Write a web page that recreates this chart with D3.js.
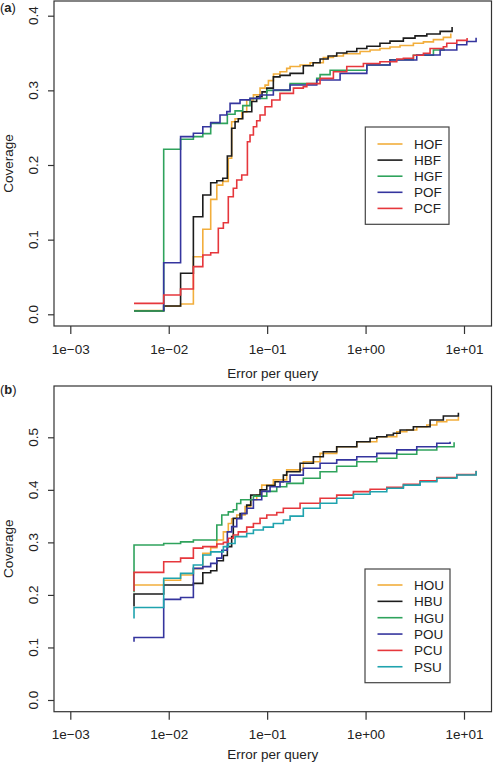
<!DOCTYPE html>
<html>
<head>
<meta charset="utf-8">
<script src="https://cdn.jsdelivr.net/npm/d3@7"></script>
<style>
  body { margin: 0; background: #fff; }
  svg { display: block; }
  text { font-family: "Liberation Sans", Arial, Helvetica, sans-serif; fill: #222; }
</style>
</head>
<body>
<svg id="chart" width="493" height="763"></svg>
<script>
// ---------- DATA ----------
const xTicks = [1e-3, 1e-2, 1e-1, 1, 10];
const xTickLabels = ["1e\u221203", "1e\u221202", "1e\u221201", "1e+00", "1e+01"];
const yTicksA = [0, 0.1, 0.2, 0.3, 0.4];
const yTicksB = [0, 0.1, 0.2, 0.3, 0.4, 0.5];
const xTitle = "Error per query";
const yTitle = "Coverage";

// Panel (a): [error per query, coverage]
const namesA = ["HOF", "HBF", "HGF", "POF", "PCF"];
const HOF = [[0.00444,0.005],[0.00889,0.011],[0.0132,0.0138],[0.0178,0.077],[0.0222,0.114],[0.0267,0.154],[0.0308,0.173],[0.0354,0.178],[0.0403,0.209],[0.0436,0.258],[0.0472,0.262],[0.0552,0.271],[0.062,0.287],[0.0725,0.294],[0.0847,0.303],[0.0952,0.307],[0.103,0.313],[0.116,0.322],[0.135,0.325],[0.158,0.3295],[0.171,0.332],[0.216,0.334],[0.273,0.337],[0.372,0.344],[0.471,0.346],[0.595,0.349],[0.879,0.352],[1.111,0.354],[1.40,0.356],[1.77,0.358],[2.24,0.360],[3.06,0.363],[3.87,0.365],[4.89,0.368],[6.17,0.371],[7.34,0.376]];
const HBF = [[0.00444,0.0044],[0.00889,0.0111],[0.0132,0.0549],[0.0178,0.1307],[0.0222,0.1598],[0.0267,0.1763],[0.0308,0.179],[0.0354,0.1822],[0.0394,0.212],[0.0436,0.2492],[0.0472,0.258],[0.0509,0.262],[0.0565,0.2714],[0.0698,0.285],[0.0783,0.2915],[0.0887,0.298],[0.0991,0.303],[0.1156,0.318],[0.135,0.320],[0.171,0.3228],[0.233,0.333],[0.293,0.337],[0.345,0.342],[0.416,0.346],[0.509,0.350],[0.644,0.352],[0.814,0.356],[1.03,0.359],[1.40,0.363],[1.77,0.366],[2.42,0.370],[3.18,0.373],[4.19,0.3755],[5.72,0.379],[7.57,0.385]];
const HGF = [[0.00444,0.0044],[0.00889,0.221],[0.0132,0.2344],[0.0178,0.238],[0.0222,0.242],[0.0267,0.2558],[0.0394,0.268],[0.0472,0.2725],[0.0565,0.2795],[0.067,0.289],[0.0991,0.300],[0.171,0.309],[0.319,0.316],[0.345,0.321],[0.436,0.327],[1.03,0.334],[1.77,0.341],[3.06,0.347],[4.89,0.354],[6.28,0.356]];
const POF = [[0.00889,0.0044],[0.00889,0.069],[0.0132,0.238],[0.0178,0.2425],[0.0222,0.2513],[0.0267,0.2567],[0.0332,0.267],[0.0389,0.2715],[0.0420,0.2826],[0.053,0.2872],[0.067,0.2893],[0.0847,0.2938],[0.1156,0.3005],[0.171,0.3072],[0.319,0.3139],[0.551,0.3228],[1.03,0.334],[1.77,0.3407],[3.31,0.3474],[5.72,0.354],[8.45,0.361],[10.67,0.3654],[13.27,0.3706]];
const PCF = [[0.00444,0.0147],[0.00889,0.0259],[0.0132,0.0339],[0.0178,0.0638],[0.0222,0.0794],[0.0267,0.0825],[0.0319,0.1152],[0.0359,0.1227],[0.0403,0.1575],[0.0453,0.1688],[0.0491,0.1799],[0.0552,0.1866],[0.063,0.2312],[0.067,0.2402],[0.0725,0.2513],[0.0783,0.2593],[0.0847,0.267],[0.0952,0.2781],[0.1114,0.2871],[0.135,0.296],[0.185,0.303],[0.233,0.305],[0.253,0.309],[0.345,0.316],[0.471,0.325],[0.644,0.332],[0.950,0.336],[1.40,0.3384],[2.075,0.342],[2.42,0.343],[3.06,0.347],[3.87,0.3496],[4.52,0.356],[6.17,0.3585],[6.68,0.363],[8.45,0.367],[10.75,0.370]];

// Panel (b)
const namesB = ["HOU", "HBU", "HGU", "POU", "PCU", "PSU"];
const HOU = [[0.00444,0.219],[0.00889,0.228],[0.0132,0.238],[0.0178,0.25],[0.0222,0.279],[0.0267,0.29],[0.0308,0.3045],[0.0359,0.32],[0.0403,0.336],[0.0436,0.345],[0.0491,0.352],[0.0596,0.368],[0.0681,0.381],[0.0783,0.39],[0.0881,0.409],[0.1156,0.419],[0.158,0.438],[0.233,0.4536],[0.345,0.4695],[0.509,0.4821],[0.814,0.4916],[1.30,0.5011],[2.075,0.5107],[2.623,0.5139],[3.311,0.5202],[4.188,0.5234],[5.29,0.5297],[6.68,0.5329],[8.77,0.5392]];
const HBU = [[0.00444,0.178],[0.00444,0.2017],[0.00889,0.219],[0.0178,0.222],[0.0222,0.2423],[0.0267,0.246],[0.0308,0.265],[0.0359,0.275],[0.0394,0.292],[0.0436,0.311],[0.0453,0.346],[0.053,0.355],[0.062,0.371],[0.0681,0.390],[0.0847,0.400],[0.0991,0.408],[0.1202,0.4155],[0.1461,0.428],[0.158,0.4345],[0.216,0.4505],[0.295,0.4631],[0.372,0.4726],[0.509,0.4821],[0.814,0.4916],[1.111,0.4981],[1.30,0.5011],[1.642,0.5044],[1.917,0.5076],[2.242,0.5139],[3.06,0.520],[4.524,0.5329],[6.17,0.5405],[8.77,0.5468]];
const HGU = [[0.00444,0.205],[0.00444,0.295],[0.00889,0.298],[0.0132,0.301],[0.0178,0.3045],[0.0308,0.333],[0.0346,0.352],[0.0403,0.358],[0.0453,0.362],[0.0491,0.374],[0.0539,0.381],[0.0725,0.388],[0.0991,0.397],[0.1252,0.406],[0.1581,0.4124],[0.233,0.422],[0.345,0.4345],[0.509,0.445],[0.814,0.4536],[1.30,0.46],[2.075,0.4676],[3.311,0.4758],[5.29,0.482],[7.93,0.4905]];
const POU = [[0.00444,0.111],[0.00444,0.119],[0.00889,0.1916],[0.0132,0.195],[0.0178,0.2506],[0.0222,0.2538],[0.0267,0.26],[0.0308,0.27],[0.0346,0.285],[0.0394,0.32],[0.0436,0.33],[0.0491,0.345],[0.0552,0.355],[0.062,0.365],[0.0725,0.381],[0.0881,0.397],[0.107,0.406],[0.1352,0.4155],[0.171,0.428],[0.233,0.441],[0.345,0.4505],[0.509,0.457],[0.814,0.463],[1.30,0.4695],[2.075,0.476],[3.311,0.482],[5.29,0.4886],[7.22,0.4916]];
const PCU = [[0.00444,0.207],[0.00444,0.243],[0.00889,0.263],[0.0132,0.27],[0.0178,0.289],[0.0222,0.292],[0.0308,0.297],[0.0359,0.300],[0.0403,0.308],[0.0453,0.314],[0.0509,0.32],[0.062,0.329],[0.0725,0.336],[0.0847,0.346],[0.0991,0.352],[0.1252,0.357],[0.146,0.365],[0.216,0.3744],[0.345,0.384],[0.509,0.390],[0.752,0.3966],[1.111,0.401],[1.642,0.405],[2.421,0.4105],[3.58,0.417],[5.29,0.4232],[8.45,0.429],[13.27,0.4365]];
const PSU = [[0.00444,0.155],[0.00444,0.176],[0.00889,0.2316],[0.0132,0.241],[0.0178,0.257],[0.0222,0.276],[0.0267,0.282],[0.0359,0.292],[0.0403,0.298],[0.0472,0.311],[0.062,0.317],[0.0725,0.3236],[0.0914,0.329],[0.1156,0.336],[0.1461,0.3426],[0.171,0.350],[0.233,0.365],[0.345,0.3744],[0.509,0.3839],[0.752,0.3915],[1.111,0.3965],[1.642,0.403],[2.421,0.409],[3.58,0.4155],[5.29,0.422],[8.45,0.4282],[13.27,0.4359]];

const colorsA = ["#F2AE3C", "#1c1c1c", "#2FA35C", "#35359E", "#E6373C"];
const colorsB = ["#F2AE3C", "#1c1c1c", "#2FA35C", "#35359E", "#E6373C", "#1FA3AE"];

// ---------- DRAW ----------
const svg = d3.select("#chart");
svg.append("rect").attr("width", 493).attr("height", 763).attr("fill", "#fff");

function panel(cfg) {
  const g = svg.append("g");
  const x = d3.scaleLog().domain([1e-3, 10]).range([70.3, 464]);
  const y = d3.scaleLinear().domain([0, cfg.yTicks[cfg.yTicks.length - 1]]).range(cfg.yRange);
  const L = 54, R = 491.5, T = cfg.top, B = cfg.bottom;

  // series
  const line = d3.line().x(d => x(d[0])).y(d => y(d[1])).curve(d3.curveStepAfter);
  g.selectAll("path.series").data(cfg.series).join("path")
    .attr("class", "series")
    .attr("d", d => line(d))
    .attr("fill", "none")
    .attr("stroke", (d, i) => cfg.colors[i])
    .attr("stroke-width", 1.6)
    .attr("stroke-linejoin", "miter");

  // box
  g.append("rect").attr("x", L).attr("y", T).attr("width", R - L).attr("height", B - T)
    .attr("fill", "none").attr("stroke", "#333").attr("stroke-width", 1.2);

  // x axis
  const xa = d3.axisBottom(x).tickValues(xTicks)
    .tickFormat((d, i) => xTickLabels[i]).tickSize(8).tickPadding(10).tickSizeOuter(0);
  const xg = g.append("g").attr("transform", `translate(0,${B})`).call(xa);
  xg.select(".domain").remove();
  xg.selectAll("line").attr("stroke", "#333").attr("stroke-width", 1.2);
  xg.selectAll("text").attr("font-size", 13.5).attr("fill", "#222")
    .attr("font-family", '"Liberation Sans", Arial, sans-serif');

  // y axis
  const ya = d3.axisLeft(y).tickValues(cfg.yTicks).tickFormat("").tickSize(6).tickSizeOuter(0);
  const yg = g.append("g").attr("transform", `translate(${L},0)`).call(ya);
  yg.select(".domain").remove();
  yg.selectAll("line").attr("stroke", "#333").attr("stroke-width", 1.2);
  g.selectAll("text.ylab").data(cfg.yTicks).join("text")
    .attr("class", "ylab")
    .attr("transform", d => `translate(38,${y(d)}) rotate(-90)`)
    .attr("text-anchor", "middle").attr("font-size", 13.5)
    .text(d => d3.format(".1f")(d));

  // titles
  g.append("text").attr("x", (L + R) / 2).attr("y", cfg.xTitleY)
    .attr("text-anchor", "middle").attr("font-size", 13.5).text(xTitle);
  g.append("text").attr("transform", `translate(12.5,${(T + B) / 2}) rotate(-90)`)
    .attr("text-anchor", "middle").attr("font-size", 13.5).text(yTitle);

  // panel tag
  const tag = g.append("text").attr("x", 0).attr("y", cfg.tagY).attr("font-size", 13);
  tag.append("tspan").text("(");
  tag.append("tspan").attr("font-weight", "bold").text(cfg.tag);
  tag.append("tspan").text(")");

  // legend
  const lg = cfg.legend;
  g.append("rect").attr("x", lg.x0).attr("y", lg.y0).attr("width", lg.x1 - lg.x0).attr("height", lg.y1 - lg.y0)
    .attr("fill", "#fff").attr("stroke", "#444").attr("stroke-width", 1.2);
  const rows = g.selectAll("g.leg").data(cfg.names).join("g").attr("class", "leg")
    .attr("transform", (d, i) => `translate(0,${lg.firstRow + i * lg.step})`);
  rows.append("line").attr("x1", 377.5).attr("x2", 402.5).attr("y1", 0).attr("y2", 0)
    .attr("stroke", (d, i) => cfg.colors[i]).attr("stroke-width", 1.6);
  rows.append("text").attr("x", 414).attr("y", 4.8).attr("font-size", 13.5).text(d => d);
}

panel({
  tag: "a", tagY: 12, top: 1, bottom: 326, yRange: [314.3, 15.7], yTicks: yTicksA,
  xTitleY: 377.5, series: [HOF, HBF, HGF, POF, PCF], colors: colorsA, names: namesA,
  legend: { x0: 365.3, x1: 449, y0: 127, y1: 224.3, firstRow: 144, step: 16.1 }
});
panel({
  tag: "b", tagY: 394, top: 386, bottom: 711.7, yRange: [700, 437.3], yTicks: yTicksB,
  xTitleY: 758.5, series: [HOU, HBU, HGU, POU, PCU, PSU], colors: colorsB, names: namesB,
  legend: { x0: 365, x1: 450, y0: 569, y1: 682.7, firstRow: 585, step: 16.35 }
});
</script>
</body>
</html>
